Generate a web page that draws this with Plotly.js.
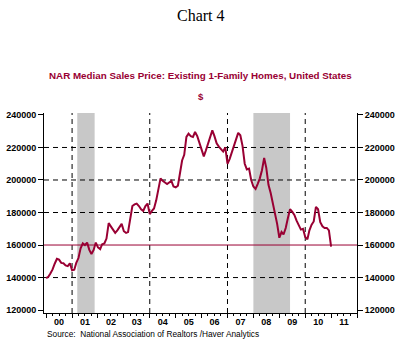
<!DOCTYPE html>
<html>
<head>
<meta charset="utf-8">
<script src="https://cdn.plot.ly/plotly-3.0.1.min.js"></script>
<style>
html,body{margin:0;padding:0;background:#fff;}
#chart{width:401px;height:339px;}
</style>
</head>
<body>
<div id="chart"></div>
<script>
// Monthly NAR median sales price, existing 1-family homes ($)
var startYear = 2000;
var v2000 = [139600, 140500, 142500, 145000, 148500, 151500, 151000, 149000, 148800, 147500, 147000, 148800];
var v2001 = [144500, 144800, 149000, 152000, 158000, 161000, 160000, 161500, 157000, 154500, 157000, 161500];
var v2002 = [158500, 157500, 160500, 161000, 164000, 173500, 171500, 169500, 167500, 169000, 171000, 173000];
var v2003 = [168500, 167500, 168000, 175000, 184000, 185000, 185500, 184000, 182000, 181000, 184000, 185500];
var v2004 = [179000, 181000, 182500, 187500, 195000, 201000, 199500, 198500, 197500, 198500, 199500, 196000];
var v2005 = [195500, 196500, 203000, 212000, 215500, 226500, 228500, 227000, 226500, 229500, 227000, 222500];
var v2006 = [219000, 214500, 218000, 222500, 227500, 230500, 227000, 222500, 220500, 219000, 217500, 220000];
var v2007 = [210000, 213000, 216500, 220500, 225000, 229000, 227500, 221000, 210000, 206500, 207000, 200000];
var v2008 = [196000, 194500, 197500, 201000, 206000, 213500, 207500, 197000, 192000, 186000, 180500, 173000];
var v2009 = [164500, 168000, 166500, 170500, 176500, 182000, 180500, 178500, 175000, 172500, 169500, 170000];
var v2010 = [165000, 163500, 169000, 172500, 174500, 183500, 182000, 174000, 171500, 170500, 170500, 169000];
var v2011 = [159000];

var refLevel = 160000;
var yTicks = [120000, 140000, 160000, 180000, 200000, 220000, 240000];
var gridLevels = [140000, 180000, 200000, 220000];
var gridYears = ['2001-01-01', '2004-01-01', '2007-01-01', '2010-01-01'];
var recessionStart = ['2001-03-15', '2008-01-01'];
var recessionEnd = ['2001-11-15', '2009-06-01'];

var yearly = [v2000, v2001, v2002, v2003, v2004, v2005, v2006, v2007, v2008, v2009, v2010, v2011];
var dates = [], values = [];
yearly.forEach(function (arr, yi) {
  arr.forEach(function (v, mi) {
    var mm = (mi + 1 < 10 ? '0' : '') + (mi + 1);
    dates.push((startYear + yi) + '-' + mm + '-01');
    values.push(v);
  });
});

var lineColor = '#990033';
var shapes = [];
recessionStart.forEach(function (s, i) {
  shapes.push({type: 'rect', xref: 'x', yref: 'paper', x0: s, x1: recessionEnd[i], y0: 0, y1: 1,
    fillcolor: '#c8c8c8', line: {width: 0}, layer: 'below'});
});
gridLevels.forEach(function (g) {
  shapes.push({type: 'line', xref: 'paper', yref: 'y', x0: 0, x1: 1, y0: g, y1: g,
    line: {color: '#000', width: 1, dash: '5px,4px'}, layer: 'below'});
});
gridYears.forEach(function (g) {
  shapes.push({type: 'line', xref: 'x', yref: 'paper', x0: g, x1: g, y0: 0, y1: 1,
    line: {color: '#000', width: 1, dash: '5px,4px'}, layer: 'below'});
});
shapes.push({type: 'line', xref: 'paper', yref: 'y', x0: 0, x1: 1, y0: refLevel, y1: refLevel,
  line: {color: lineColor, width: 1}, layer: 'below'});

var traces = [
  {x: dates, y: values, type: 'scatter', mode: 'lines', line: {color: lineColor, width: 2}, hoverinfo: 'skip'},
  {x: dates, y: values, type: 'scatter', mode: 'lines', yaxis: 'y2', opacity: 0, line: {width: 1}, hoverinfo: 'skip'}
];

var tickFont = {family: 'Arial, Liberation Sans, sans-serif', size: 9, color: '#000', weight: 'bold'};
var yRange = [118200, 241200];
var layout = {
  width: 401, height: 339,
  margin: {l: 44, r: 44, t: 113, b: 26, pad: 0},
  paper_bgcolor: '#fff', plot_bgcolor: '#fff',
  showlegend: false,
  xaxis: {
    type: 'date', range: ['1999-12-02', '2012-01-01'],
    tick0: '2000-01-01', dtick: 'M12', tickformat: '%y', ticklabelmode: 'period',
    ticks: 'outside', ticklen: 4, tickcolor: '#000', tickwidth: 1, ticklabelstandoff: -4,
    minor: {dtick: 'M3', ticks: 'outside', ticklen: 2, tickcolor: '#000', showgrid: false},
    showgrid: false, zeroline: false, showline: true, linecolor: '#000', linewidth: 1,
    tickfont: tickFont, fixedrange: true
  },
  yaxis: {
    range: yRange, tickvals: yTicks, tickformat: 'd',
    ticks: 'outside', ticklen: 5, tickcolor: '#000',
    showgrid: false, zeroline: false, showline: true, linecolor: '#000', linewidth: 1,
    tickfont: tickFont, fixedrange: true
  },
  yaxis2: {
    overlaying: 'y', side: 'right', range: yRange, tickvals: yTicks, tickformat: 'd',
    ticks: 'outside', ticklen: 5, tickcolor: '#000',
    showgrid: false, zeroline: false, showline: true, linecolor: '#000', linewidth: 1,
    tickfont: tickFont, fixedrange: true
  },
  shapes: shapes,
  annotations: [
    {text: 'Chart 4', xref: 'paper', yref: 'paper', x: 0.5, y: (313 - 15) / 200, yanchor: 'middle',
      showarrow: false, font: {family: 'Liberation Serif, Times New Roman, serif', size: 16, color: '#000'}},
    {text: 'NAR Median Sales Price: Existing 1-Family Homes, United States', xref: 'paper', yref: 'paper',
      x: 0.5, y: (313 - 76) / 200, yanchor: 'middle', showarrow: false,
      font: {family: 'Arial, Liberation Sans, sans-serif', size: 9.8, color: lineColor, weight: 'bold'}},
    {text: '$', xref: 'paper', yref: 'paper', x: 0.5, y: (313 - 96) / 200, yanchor: 'middle', showarrow: false,
      font: {family: 'Arial, Liberation Sans, sans-serif', size: 9.5, color: lineColor, weight: 'bold'}},
    {text: 'Source:  National Association of Realtors /Haver Analytics', xref: 'paper', yref: 'paper',
      x: (45 - 44) / 313, xanchor: 'left', y: (313 - 333.5) / 200, yanchor: 'middle', showarrow: false,
      font: {family: 'Arial, Liberation Sans, sans-serif', size: 8.3, color: '#000'}}
  ]
};

Plotly.newPlot('chart', traces, layout, {displayModeBar: false, staticPlot: true});
</script>
</body>
</html>
